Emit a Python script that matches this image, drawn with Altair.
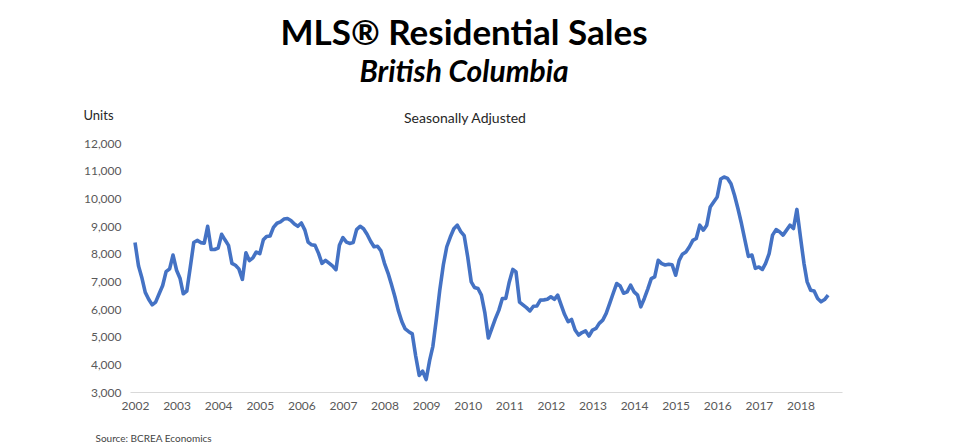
import altair as alt
import pandas as pd

# Monthly MLS residential sales, British Columbia (seasonally adjusted)
sales_2002 = [8400, 7550, 7150, 6600, 6350, 6150, 6250, 6550, 6850, 7350, 7450, 7950]
sales_2003 = [7400, 7100, 6550, 6650, 7500, 8400, 8480, 8400, 8380, 8990, 8150, 8150]
sales_2004 = [8200, 8700, 8500, 8300, 7650, 7580, 7450, 7070, 8030, 7750, 7850, 8060]
sales_2005 = [8000, 8500, 8620, 8640, 8950, 9100, 9150, 9250, 9270, 9200, 9070, 8990]
sales_2006 = [9110, 8850, 8420, 8320, 8300, 8010, 7650, 7760, 7660, 7560, 7420, 8300]
sales_2007 = [8580, 8420, 8370, 8400, 8870, 8990, 8900, 8700, 8450, 8250, 8270, 8100]
sales_2008 = [7650, 7300, 6900, 6450, 5950, 5550, 5280, 5180, 5100, 4300, 3600, 3750]
sales_2009 = [3450, 4150, 4650, 5650, 6700, 7600, 8250, 8600, 8900, 9030, 8800, 8650]
sales_2010 = [7880, 6980, 6780, 6740, 6500, 5850, 4950, 5300, 5650, 5950, 6380, 6380]
sales_2011 = [6980, 7430, 7340, 6250, 6150, 6050, 5930, 6100, 6110, 6320, 6330, 6350]
sales_2012 = [6440, 6350, 6500, 6140, 5800, 5540, 5620, 5240, 5060, 5150, 5210, 5020]
sales_2013 = [5240, 5300, 5480, 5600, 5840, 6200, 6560, 6920, 6830, 6570, 6620, 6860]
sales_2014 = [6620, 6500, 6080, 6380, 6720, 7100, 7160, 7760, 7640, 7590, 7620, 7600]
sales_2015 = [7220, 7760, 7980, 8060, 8240, 8480, 8550, 9030, 8850, 9030, 9690, 9870]
sales_2016 = [10050, 10700, 10770, 10720, 10530, 10110, 9630, 9090, 8480, 7900, 7950, 7470]
sales_2017 = [7520, 7430, 7650, 8000, 8670, 8870, 8790, 8670, 8850, 9030, 8910, 9600]
sales_2018 = [8600, 7650, 6980, 6680, 6650, 6380, 6260, 6340, 6500]

axis_years = list(range(2002, 2019))
y_ticks = [3000, 4000, 5000, 6000, 7000, 8000, 9000, 10000, 11000, 12000]

title_text = "MLS® Residential Sales"
subtitle_text = "British Columbia"
note_text = "Seasonally Adjusted"
units_text = "Units"
source_text = "Source: BCREA Economics"

values = (sales_2002 + sales_2003 + sales_2004 + sales_2005 + sales_2006 + sales_2007
          + sales_2008 + sales_2009 + sales_2010 + sales_2011 + sales_2012 + sales_2013
          + sales_2014 + sales_2015 + sales_2016 + sales_2017 + sales_2018)
dates = pd.date_range("2002-01-01", periods=len(values), freq="MS")
df = pd.DataFrame({"date": dates, "sales": values})

FONT = "Lato"

line = alt.Chart(df).mark_line(color="#4472C4", strokeWidth=3.6, strokeJoin="round").encode(
    x=alt.X(
        "date:T",
        scale=alt.Scale(domain=[alt.DateTime(year=2001, month=11, date=18),
                                alt.DateTime(year=2019, month=1, date=1)]),
        axis=alt.Axis(
            values=[alt.DateTime(year=y, month=1, date=1) for y in axis_years],
            format="%Y",
            labelFontSize=12, labelColor="#595959", labelFont=FONT,
            labelPadding=8, ticks=False, grid=False,
            domainColor="#D9D9D9", domainWidth=1,
            title=source_text, titleFont=FONT, titleFontSize=10, titleFontWeight="normal",
            titleColor="#444444", titleAnchor="start", titleAlign="left",
            titleX=-35, titleY=46, titleBaseline="middle",
        ),
    ),
    y=alt.Y(
        "sales:Q",
        scale=alt.Scale(domain=[3000, 12000], nice=False, zero=False),
        axis=alt.Axis(
            values=y_ticks, format=",d",
            labelFontSize=12, labelColor="#595959", labelFont=FONT,
            labelPadding=9, ticks=False, grid=False, domain=False,
            title=units_text, titleFont=FONT, titleFontSize=13, titleFontWeight="normal",
            titleColor="#262626", titleAngle=0, titleAlign="left", titleBaseline="middle",
            titleX=-47, titleY=-28,
        ),
    ),
)

note = alt.Chart(pd.DataFrame({"t": [note_text]})).mark_text(
    font=FONT, fontSize=14, color="#262626", align="center", baseline="middle"
).encode(x=alt.value(335), y=alt.value(-24), text="t:N")

chart = alt.layer(line, note).properties(
    width=712,
    height=249,
    title=alt.TitleParams(
        text=title_text, subtitle=subtitle_text,
        font=FONT, fontSize=35, fontWeight="bold", color="#000000",
        subtitleFont=FONT, subtitleFontSize=30, subtitleFontWeight="bold",
        subtitleFontStyle="italic", subtitleColor="#000000", subtitlePadding=6,
        anchor="middle", dx=-22, offset=21,
    ),
    autosize=alt.AutoSizeParams(type="none"),
    padding={"left": 122, "top": 135, "right": 110, "bottom": 56},
).configure_view(stroke=None)

chart.save("out.html", embed_options={"renderer": "svg", "actions": False})
